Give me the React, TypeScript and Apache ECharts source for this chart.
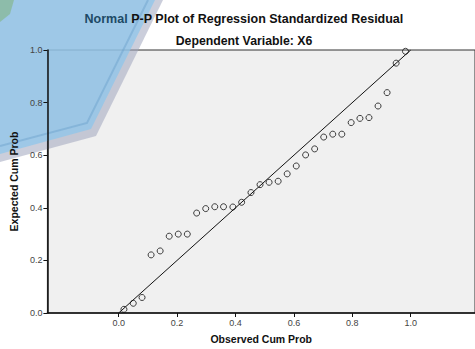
import React, { useEffect, useRef } from "react";
import * as echarts from "echarts";

const observedCumProb = [
  0.018, 0.05, 0.08, 0.111, 0.142, 0.173, 0.204, 0.235, 0.267, 0.298, 0.329,
  0.359, 0.391, 0.421, 0.453, 0.484, 0.515, 0.546, 0.577, 0.608, 0.64, 0.671,
  0.702, 0.733, 0.764, 0.796, 0.826, 0.857, 0.888, 0.919, 0.95, 0.982,
];
const expectedCumProb = [
  0.014, 0.037, 0.059, 0.221, 0.236, 0.292, 0.3, 0.3, 0.38, 0.397, 0.404,
  0.404, 0.403, 0.421, 0.458, 0.488, 0.497, 0.501, 0.529, 0.559, 0.601, 0.624,
  0.669, 0.68, 0.68, 0.724, 0.74, 0.743, 0.787, 0.838, 0.95, 0.995,
];
const referenceLine = [
  [0, 0],
  [1, 1],
];
const xTickValues = [0, 0.2, 0.4, 0.6, 0.8, 1.0];

const titleMain = "Normal P-P Plot of Regression Standardized Residual";
const titleSub = "Dependent Variable: X6";
const xName = "Observed Cum Prob";
const yName = "Expected Cum Prob";

const FONT = "'Liberation Sans', Arial, sans-serif";

export default function App() {
  const ref = useRef<HTMLDivElement>(null);

  useEffect(() => {
    if (!ref.current) return;
    const chart = echarts.init(ref.current, null, { renderer: "svg" });
    const points = observedCumProb.map((x, i) => [x, expectedCumProb[i]]);
    const firstWord = titleMain.split(" ")[0];
    const restWords = titleMain.slice(firstWord.length + 1);

    chart.setOption({
      animation: false,
      backgroundColor: "#ffffff",
      title: [
        {
          text: `{a|${firstWord}} {b|${restWords}}`,
          left: 244,
          textAlign: "center",
          top: 12,
          padding: 0,
          textStyle: {
            fontFamily: FONT,
            fontSize: 12.5,
            fontWeight: "bold",
            rich: {
              a: { fontFamily: FONT, fontSize: 12.5, fontWeight: "bold", color: "#1d4a66" },
              b: { fontFamily: FONT, fontSize: 12.5, fontWeight: "bold", color: "#111" },
            },
          },
        },
        {
          text: titleSub,
          left: 244,
          textAlign: "center",
          top: 35,
          padding: 0,
          textStyle: { fontFamily: FONT, fontSize: 12.3, fontWeight: "bold", color: "#111" },
        },
      ],
      graphic: [
        {
          type: "polygon",
          z: 1,
          silent: true,
          shape: {
            points: [
              [0, 0],
              [163, 0],
              [96, 136],
              [0, 162],
            ],
          },
          style: { fill: "rgba(160,165,190,0.55)" },
        },
        {
          type: "polygon",
          z: 1,
          silent: true,
          shape: {
            points: [
              [0, 0],
              [155, 0],
              [91, 129],
              [0, 154],
            ],
          },
          style: { fill: "rgba(140,198,235,0.72)" },
        },
        {
          type: "polyline",
          z: 1,
          silent: true,
          shape: {
            points: [
              [148, 0],
              [87, 123],
              [0, 146],
            ],
          },
          style: { stroke: "rgba(100,155,200,0.4)", lineWidth: 2, fill: null },
        },
        {
          type: "polygon",
          z: 1,
          silent: true,
          shape: {
            points: [
              [0, 0],
              [14, 0],
              [10, 14],
              [0, 22],
            ],
          },
          style: { fill: "rgba(130,180,130,0.6)" },
        },
      ],
      grid: {
        left: 46,
        top: 50,
        right: -3,
        bottom: 31,
        show: true,
        z: 0,
        backgroundColor: "#f0f0f0",
        borderColor: "#333",
        borderWidth: 1,
      },
      xAxis: {
        type: "value",
        min: -0.244,
        max: 1.22,
        z: 3,
        name: xName,
        nameLocation: "middle",
        nameGap: 20,
        nameTextStyle: { fontFamily: FONT, fontSize: 10.5, fontWeight: "bold", color: "#111" },
        axisLine: { show: true, onZero: false, lineStyle: { color: "#111", width: 1.5 } },
        axisTick: {
          show: true,
          customValues: xTickValues,
          length: 4,
          lineStyle: { color: "#111", width: 1 },
        },
        axisLabel: {
          customValues: xTickValues,
          formatter: (v: number) => v.toFixed(1),
          fontFamily: FONT,
          fontSize: 9,
          color: "#444",
          margin: 5,
        },
        splitLine: { show: false },
      },
      yAxis: {
        type: "value",
        min: 0,
        max: 1,
        interval: 0.2,
        z: 3,
        name: yName,
        nameLocation: "middle",
        nameGap: 23,
        nameTextStyle: { fontFamily: FONT, fontSize: 10.5, fontWeight: "bold", color: "#111" },
        axisLine: { show: true, onZero: false, lineStyle: { color: "#111", width: 1.5 } },
        axisTick: { show: true, length: 4, lineStyle: { color: "#111", width: 1 } },
        axisLabel: {
          formatter: (v: number) => v.toFixed(1),
          fontFamily: FONT,
          fontSize: 9,
          color: "#444",
          margin: 5,
        },
        splitLine: { show: false },
      },
      series: [
        {
          type: "line",
          z: 4,
          data: referenceLine,
          showSymbol: false,
          symbol: "none",
          silent: true,
          lineStyle: { color: "#111", width: 1 },
        },
        {
          type: "scatter",
          z: 5,
          data: points,
          symbol: "circle",
          symbolSize: 6,
          itemStyle: { color: "rgba(0,0,0,0)", borderColor: "#111", borderWidth: 1 },
        },
      ],
    });

    return () => chart.dispose();
  }, []);

  return (
    <div
      ref={ref}
      style={{ position: "fixed", left: 0, top: 0, width: 475, height: 349 }}
    />
  );
}
